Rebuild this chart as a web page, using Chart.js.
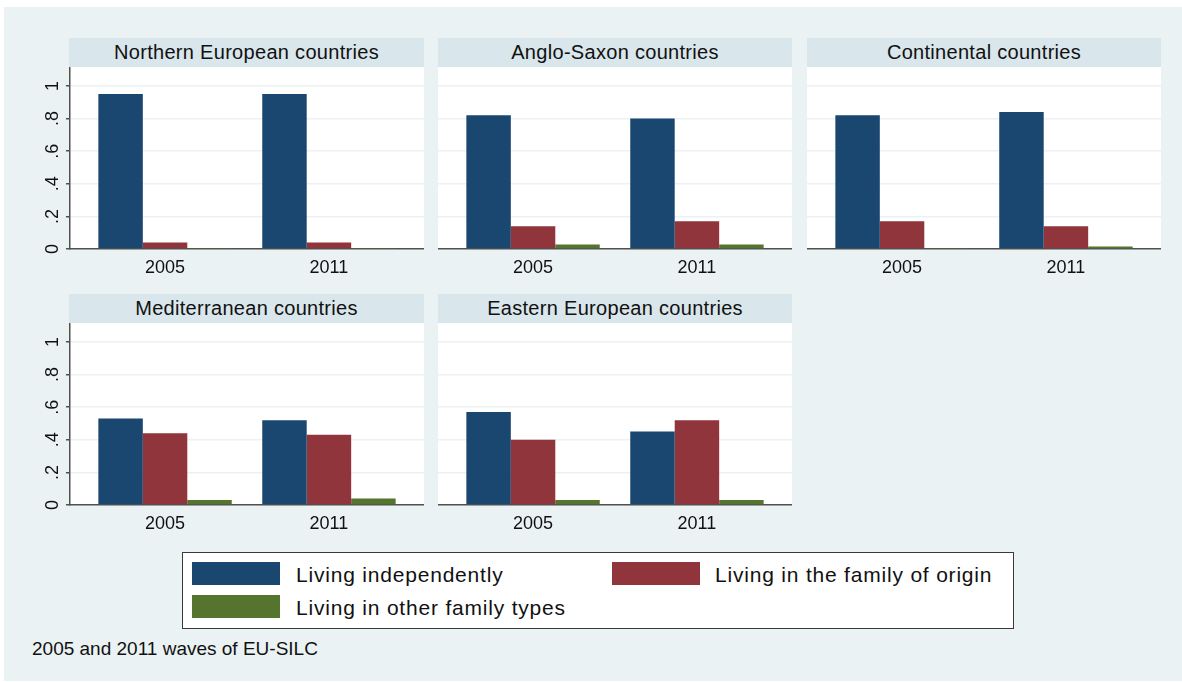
<!DOCTYPE html>
<html>
<head>
<meta charset="utf-8">
<title>Living arrangements, 2005 and 2011</title>
<script src="https://cdn.jsdelivr.net/npm/chart.js@4.4.1/dist/chart.umd.min.js"></script>
<style>
  body { margin: 0; background: #fff; font-family: 'Liberation Sans', Arial, sans-serif; color: #111; }
  #graph { position: absolute; left: 4px; top: 7px; width: 1178px; height: 674px; background: #eaf2f3; }
  .strip { position: absolute; height: 29px; line-height: 29px; background: #d9e6eb; font-size: 20px;
           letter-spacing: 0.3px; text-align: center; white-space: nowrap; }
  canvas { position: absolute; }
  #legend { position: absolute; left: 182px; top: 552px; width: 830px; height: 75px;
            background: #fff; border: 1.5px solid #3a3a3a; }
  .key { position: absolute; width: 88px; height: 23px; }
  .key-label { position: absolute; font-size: 21px; letter-spacing: 0.8px; line-height: 23px; white-space: nowrap; }
  #note { position: absolute; left: 32px; top: 638px; font-size: 19px; white-space: nowrap; }
</style>
</head>
<body>
<div id="graph"></div>
<div id="legend"></div>
<div id="note">2005 and 2011 waves of EU-SILC</div>

<script>
// Data (share of young adults)
const years = ['2005', '2011'];
const regions = [
    'Northern European countries',
    'Anglo-Saxon countries',
    'Continental countries',
    'Mediterranean countries',
    'Eastern European countries'
];
const seriesNames = ['Living independently', 'Living in the family of origin', 'Living in other family types'];
const seriesColors = ['#1a476f', '#90353b', '#55752f'];

// one pair [2005, 2011] per region, in the order of regions
const livingIndependently = [[0.95, 0.95], [0.82, 0.80], [0.82, 0.84], [0.53, 0.52], [0.57, 0.45]];
const livingFamilyOrigin  = [[0.04, 0.04], [0.14, 0.17], [0.17, 0.14], [0.44, 0.43], [0.40, 0.52]];
const livingOtherTypes    = [[0.006, 0.006], [0.027, 0.027], [0.006, 0.015], [0.03, 0.04], [0.03, 0.03]];

const yTicks = [0, 0.2, 0.4, 0.6, 0.8, 1];
const yTickLabels = ['0', '.2', '.4', '.6', '.8', '1'];

const seriesValues = [livingIndependently, livingFamilyOrigin, livingOtherTypes];

// Panel placement (plot area left/top, whether it carries the y axis)
const panels = [
    { left: 70,  top: 67,  showY: true },
    { left: 438, top: 67,  showY: false },
    { left: 807, top: 67,  showY: false },
    { left: 70,  top: 323, showY: true },
    { left: 438, top: 323, showY: false }
];
const plotW = 354;
const plotH = 182;
const yAxisW = 50;
const xAxisH = 42;
const fontFamily = "'Liberation Sans', Arial, sans-serif";

// White plot region behind the bars
const plotBackground = {
    id: 'plotBackground',
    beforeDraw(chart) {
        const a = chart.chartArea;
        const ctx = chart.ctx;
        ctx.save();
        ctx.fillStyle = '#fff';
        ctx.fillRect(a.left, a.top, a.right - a.left, a.bottom - a.top);
        ctx.restore();
    }
};

function drawPanel(i) {
    const p = panels[i];
    const axisW = p.showY ? yAxisW : 0;

    const strip = document.createElement('div');
    strip.className = 'strip';
    strip.style.left = (p.left - (p.showY ? 1 : 0)) + 'px';
    strip.style.top = (p.top - 29) + 'px';
    strip.style.width = (plotW + (p.showY ? 1 : 0)) + 'px';
    strip.textContent = regions[i];
    document.body.appendChild(strip);

    const canvas = document.createElement('canvas');
    canvas.width = plotW + axisW;
    canvas.height = plotH + xAxisH;
    canvas.style.left = (p.left - axisW) + 'px';
    canvas.style.top = p.top + 'px';
    document.body.appendChild(canvas);

    new Chart(canvas, {
        type: 'bar',
        data: {
            datasets: seriesNames.map((name, s) => ({
                label: name,
                data: years.map((yr, j) => ({ x: j + 1, y: seriesValues[s][i][j] })),
                backgroundColor: seriesColors[s],
                borderWidth: 0,
                categoryPercentage: 0.814,
                barPercentage: 1
            }))
        },
        options: {
            responsive: false,
            animation: false,
            devicePixelRatio: 1,
            layout: { padding: 0 },
            plugins: {
                legend: { display: false },
                tooltip: { enabled: false }
            },
            scales: {
                x: {
                    type: 'linear',
                    offset: false,
                    min: 0.42,
                    max: 2.58,
                    z: 1,
                    grid: { display: false, drawTicks: false },
                    border: { display: true, color: '#505050', width: 1.5 },
                    afterBuildTicks: scale => { scale.ticks = years.map((yr, j) => ({ value: j + 1 })); },
                    afterFit: scale => {
                        scale.height = xAxisH;
                        scale.paddingLeft = 0;
                        scale.paddingRight = 0;
                    },
                    ticks: {
                        callback: (v, idx) => years[idx],
                        autoSkip: false,
                        maxRotation: 0,
                        padding: 8,
                        color: '#111',
                        font: { family: fontFamily, size: 18 }
                    }
                },
                y: {
                    min: 0,
                    max: 1.116,
                    afterBuildTicks: scale => { scale.ticks = yTicks.map(v => ({ value: v })); },
                    afterFit: scale => {
                        // keep the plot region exactly where the strip ends
                        scale.width = axisW;
                        scale.paddingTop = 0;
                        scale.paddingBottom = 0;
                    },
                    grid: { color: '#eaf2f3', lineWidth: 1.5, drawTicks: p.showY, tickLength: 4, tickColor: '#505050', tickWidth: 1.5 },
                    border: { display: p.showY, color: '#505050', width: 1.5 },
                    ticks: {
                        display: p.showY,
                        callback: (v, idx) => yTickLabels[idx],
                        minRotation: 90,
                        maxRotation: 90,
                        crossAlign: 'center',
                        padding: 5,
                        color: '#111',
                        font: { family: fontFamily, size: 18 }
                    }
                }
            }
        },
        plugins: [plotBackground]
    });
}

regions.forEach((r, i) => drawPanel(i));

// Legend box: two columns, filled row by row
const legend = document.getElementById('legend');
const keySpots = [
    { x: 9,   y: 9,  tx: 113 },
    { x: 429, y: 9,  tx: 532 },
    { x: 9,   y: 42, tx: 113 }
];
seriesNames.forEach((name, s) => {
    const spot = keySpots[s];
    const key = document.createElement('div');
    key.className = 'key';
    key.style.left = spot.x + 'px';
    key.style.top = spot.y + 'px';
    key.style.background = seriesColors[s];
    legend.appendChild(key);

    const label = document.createElement('div');
    label.className = 'key-label';
    label.style.left = spot.tx + 'px';
    label.style.top = (spot.y + 1) + 'px';
    label.textContent = name;
    legend.appendChild(label);
});
</script>
</body>
</html>
